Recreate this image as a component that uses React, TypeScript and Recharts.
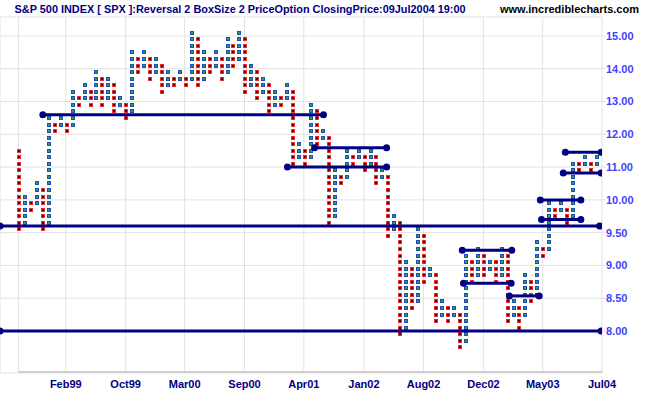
import React from 'react';
import { ScatterChart, Scatter, XAxis, YAxis, CartesianGrid, ReferenceLine } from 'recharts';

// Point & figure columns, left to right. They alternate falling (red) / rising (blue),
// the first one falling. Each entry: [lowest box, highest box] as index price / 100.
const COLUMNS: [number, number][] = [
  [9.5, 11.4], [9.6, 10.0], [9.8, 9.9], [9.9, 10.4], [9.5, 10.2], [9.6, 12.4],
  [12.0, 12.2], [12.2, 12.4], [12.0, 12.2], [12.2, 13.2], [12.8, 13.0], [13.0, 13.4],
  [12.8, 13.2], [13.0, 13.8], [12.8, 13.6], [13.0, 13.6], [12.6, 13.4], [12.8, 13.0],
  [12.4, 12.8], [12.6, 14.4], [13.8, 14.2], [14.0, 14.4], [13.6, 14.2], [13.8, 14.2],
  [13.2, 14.0], [13.4, 13.8], [13.4, 13.6], [13.6, 13.8], [13.4, 13.6], [13.6, 15.0],
  [13.4, 14.8], [13.6, 14.4], [13.8, 14.2], [14.0, 14.4], [13.6, 14.2], [13.8, 14.8],
  [14.0, 14.6], [14.2, 15.0], [13.2, 14.8], [13.4, 14.0], [13.0, 13.8], [13.2, 13.6],
  [12.6, 13.4], [12.8, 13.2], [12.8, 13.0], [13.0, 13.4], [11.0, 13.2], [11.2, 11.6],
  [11.0, 11.4], [11.2, 12.8], [11.6, 12.6], [11.8, 12.0], [9.6, 11.8], [9.7, 10.8],
  [10.4, 10.6], [10.6, 11.4], [11.0, 11.2], [11.2, 11.4], [10.8, 11.2], [11.0, 11.4],
  [10.4, 11.2], [10.6, 10.8], [9.4, 10.6], [9.5, 9.7], [7.9, 9.6], [8.0, 9.0],
  [8.3, 8.9], [8.4, 9.5], [8.7, 9.4], [8.8, 8.9], [8.1, 8.8], [8.2, 8.4],
  [8.1, 8.3], [8.2, 8.3], [7.7, 8.2], [7.8, 9.1], [8.7, 9.0], [8.8, 9.2],
  [8.8, 9.1], [8.9, 9.0], [8.7, 9.0], [8.8, 9.2], [8.1, 9.1], [8.2, 8.4],
  [8.0, 8.3], [8.2, 8.8], [8.4, 8.7], [8.5, 9.3], [9.1, 9.2], [9.2, 9.9],
  [9.7, 9.8], [9.8, 9.9], [9.6, 9.8], [9.7, 11.0], [10.8, 11.0], [11.0, 11.2],
  [10.8, 11.0], [11.0, 11.2],
];

// support / resistance lines: price level and column span
const LINE_LEVELS = [12.6, 11.59, 11.0, 9.6, 8.0, 9.23, 8.73, 8.535, 10.0, 9.7, 10.82, 11.45];
const LINE_FROM = [4.0, 49.6, 45.05, -3.19, -3.19, 74.4, 74.6, 82.3, 87.5, 87.7, 91.35, 91.7];
const LINE_TO = [51.1, 61.7, 61.7, 97.45, 97.7, 82.7, 82.6, 87.3, 94.3, 94.3, 97.7, 97.7];

const PRICE_TICKS = [8, 8.5, 9, 9.5, 10, 11, 12, 13, 14, 15];
const DATE_TICKS = [-0.1, 7.85, 17.9, 27.8, 37.85, 47.8, 57.9, 67.9, 77.95, 87.9, 97.85];
const DATE_LABELS = ['', 'Feb99', 'Oct99', 'Mar00', 'Sep00', 'Apr01', 'Jan02', 'Aug02', 'Dec02', 'May03', 'Jul04'];

const X_DOMAIN: [number, number] = [-3.19, 97.85];
const Y_DOMAIN: [number, number] = [-6.41, 47.9];

// box 0.10 up to 10.00, box 0.20 above it
const boxRow = (p: number) => (p <= 10 ? (p - 8) * 10 : 20 + (p - 10) * 5);

const FONT = '"Liberation Sans", Arial, sans-serif';

const oMarks: { x: number; y: number }[] = [];
const xMarks: { x: number; y: number }[] = [];
COLUMNS.forEach(([lo, hi], i) => {
  const target = i % 2 === 0 ? oMarks : xMarks;
  for (let r = Math.round(boxRow(lo)); r <= Math.round(boxRow(hi)); r++) {
    target.push({ x: i, y: r + 0.5 });
  }
});

const yTicks = PRICE_TICKS.map(boxRow);

const OMark = (props: any) => {
  const x = Math.round(props.cx) - 2;
  const y = Math.round(props.cy) - 2;
  return (
    <g>
      <rect x={x} y={y} width={4} height={4} fill="#ee2a2a" />
      <path d={`M${x + 1} ${y + 1}L${x + 3} ${y + 3}M${x + 3} ${y + 1}L${x + 1} ${y + 3}`} stroke="#5a0010" strokeWidth={1} />
    </g>
  );
};

const XMark = (props: any) => {
  const x = Math.round(props.cx) - 2;
  const y = Math.round(props.cy) - 2;
  return (
    <g>
      <rect x={x} y={y} width={4} height={4} fill="#1e4cc0" />
      <rect x={x + 1} y={y + 1} width={2} height={2} fill="#2ea044" />
    </g>
  );
};

const Dot = (props: any) => <circle cx={props.cx} cy={props.cy} r={3.5} fill="#000080" />;

export default function App() {
  return (
    <div style={{ position: 'absolute', left: 0, top: 0, width: 651, height: 395, background: '#fff' }}>
      <ScatterChart width={651} height={395} margin={{ top: 17, right: 0, bottom: 0, left: 0 }} style={{ fontFamily: FONT }}>
        <CartesianGrid stroke="#e2e2e2" />
        <XAxis
          type="number"
          dataKey="x"
          domain={X_DOMAIN}
          allowDataOverflow
          ticks={DATE_TICKS}
          interval={0}
          tickFormatter={(v: number) => DATE_LABELS[DATE_TICKS.indexOf(v)] ?? ''}
          axisLine={false}
          tickLine={false}
          tickSize={0}
          tickMargin={7}
          height={22}
          tick={{ fill: '#000080', fontSize: 11, fontWeight: 'bold', fontFamily: FONT }}
        />
        <YAxis
          type="number"
          dataKey="y"
          orientation="right"
          width={49}
          domain={Y_DOMAIN}
          allowDataOverflow
          ticks={yTicks}
          interval={0}
          tickFormatter={(v: number) => {
            const i = yTicks.findIndex((t) => Math.abs(t - v) < 0.01);
            return i >= 0 ? PRICE_TICKS[i].toFixed(2) : '';
          }}
          axisLine={false}
          tickLine={{ stroke: '#e2e2e2' }}
          tickSize={4}
          tickMargin={0}
          tick={{ fill: '#3f3fff', fontSize: 11, fontWeight: 'bold', fontFamily: FONT }}
        />
        <ReferenceLine
          segment={[{ x: DATE_TICKS[0], y: Y_DOMAIN[0] + 0.15 }, { x: X_DOMAIN[1], y: Y_DOMAIN[0] + 0.15 }]}
          stroke="#d0d0d0"
          strokeWidth={2}
          ifOverflow="visible"
        />
        <Scatter data={oMarks} shape={OMark} isAnimationActive={false} />
        <Scatter data={xMarks} shape={XMark} isAnimationActive={false} />
        {LINE_LEVELS.map((lvl, i) => (
          <Scatter
            key={i}
            data={[{ x: LINE_FROM[i], y: boxRow(lvl) }, { x: LINE_TO[i], y: boxRow(lvl) }]}
            line={{ stroke: '#000080', strokeWidth: 3 }}
            shape={Dot}
            isAnimationActive={false}
          />
        ))}
      </ScatterChart>
      <svg width={651} height={18} style={{ position: 'absolute', left: 0, top: 0 }}>
        <text x={14.6} y={12.5} textLength={451} lengthAdjust="spacingAndGlyphs" fontSize={11} fontWeight="bold" fill="#000080" fontFamily={FONT}>
          S&amp;P 500 INDEX [ SPX ]:Reversal 2 BoxSize 2 PriceOption ClosingPrice:09Jul2004 19:00
        </text>
        <text x={500} y={12.5} fontSize={11} fontWeight="bold" fill="#000" fontFamily={FONT}>
          www.incrediblecharts.com
        </text>
      </svg>
    </div>
  );
}
